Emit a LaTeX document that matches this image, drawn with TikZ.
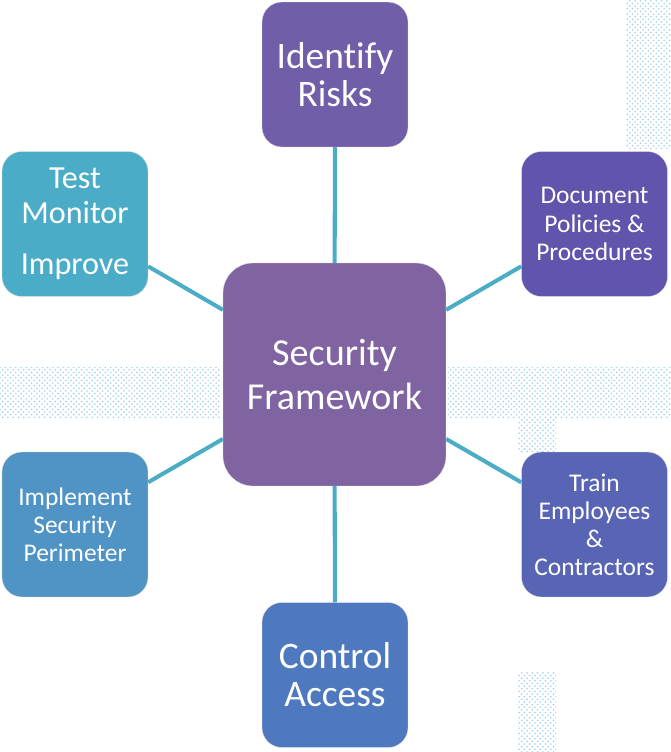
\documentclass[tikz,border=0pt]{standalone}
\usepackage{fontspec}
\setmainfont{Carlito}[Ligatures=NoCommon]
\usetikzlibrary{positioning,patterns}
\definecolor{riskcol}{RGB}{113,94,168}
\definecolor{policycol}{RGB}{96,84,172}
\definecolor{traincol}{RGB}{88,100,180}
\definecolor{accesscol}{RGB}{79,121,190}
\definecolor{perimcol}{RGB}{79,148,196}
\definecolor{testcol}{RGB}{75,172,199}
\definecolor{hubcol}{RGB}{128,100,162}
\definecolor{spokecol}{RGB}{75,172,198}
\definecolor{dotcol}{RGB}{160,205,238}
\tikzset{%
tile/.style={rectangle,rounded corners=0.4cm,minimum width=2.92cm,minimum height=2.9cm,
  inner sep=2pt,align=center,text=white,draw=white!85!black,very thin},
bigtext/.style={font=\fontsize{21.3}{21.5}\selectfont},
smalltext/.style={font=\fontsize{14.5}{16}\selectfont},
hub/.style={tile,rounded corners=0.6cm,minimum width=4.46cm,minimum height=4.46cm,
  fill=hubcol,font=\fontsize{21.7}{25.5}\selectfont},
spoke/.style={draw=spokecol,line width=2.3pt},
dots/.style={pattern=crosshatch dots,pattern color=dotcol}
}
\begin{document}
\begin{tikzpicture}[x=0.02cm,y=-0.02cm]
  \useasboundingbox (0,0) rectangle (671,752);

  % dotted patches behind
  \fill[dots] (0,367) rectangle (220,418);
  \fill[dots] (448,367) rectangle (671,418);
  \fill[dots] (518,418) rectangle (556,452);
  \fill[dots] (626,0) rectangle (671,148);
  \fill[dots] (517,672) rectangle (556,752);

  % boxes
  \node[hub] (frame) at (334.5,374.5) {Security\\Framework};
  \node[tile,bigtext,fill=riskcol] (risks) at (335,74.5) {Identify\\Risks};
  \node[tile,smalltext,fill=policycol] (policies) at (594.5,224) {Document\\Policies \&\\Procedures};
  \node[tile,smalltext,fill=traincol] (train) at (594.5,524.5) {Train\\Employees\\\&\\Contractors};
  \node[tile,bigtext,fill=accesscol] (access) at (335,675) {Control\\Access};
  \node[tile,smalltext,fill=perimcol] (perimeter) at (75,524.5) {Implement\\Security\\Perimeter};
  \node[tile,fill=testcol,font=\fontsize{18.3}{19.8}\selectfont] (test) at (75,224) {Test\\Monitor\\[9.5pt]Improve};

  % spokes
  \foreach \n in {risks,policies,train,access,perimeter,test}
    \draw[spoke] (frame) -- (\n);
\end{tikzpicture}
\end{document}
